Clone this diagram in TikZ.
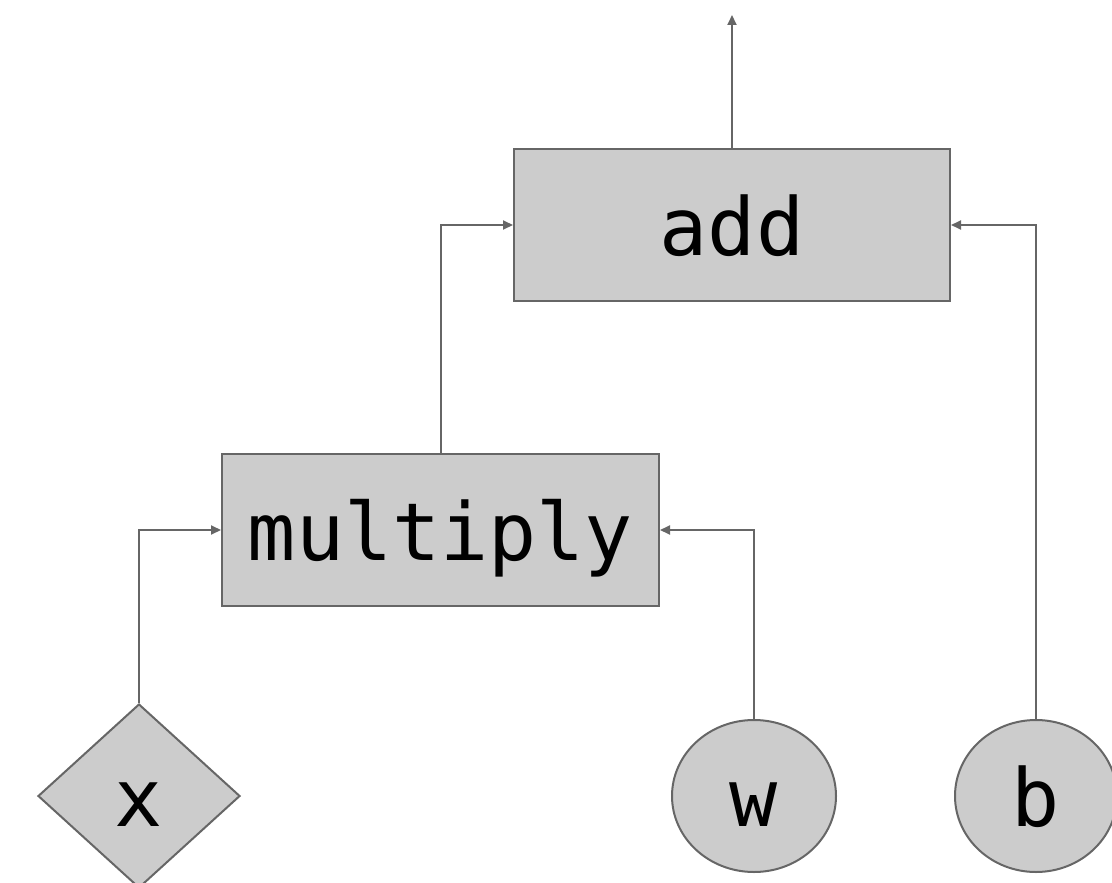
\documentclass[tikz,border=0pt]{standalone}
\usepackage{fontspec}
\setmonofont{DejaVu Sans Mono}
\usetikzlibrary{shapes.geometric,arrows.meta}
\definecolor{boxfill}{HTML}{CCCCCC}
\definecolor{edge}{HTML}{666666}
\tikzset{
  opbox/.style={draw=edge, fill=boxfill, line width=2pt, inner sep=0pt},
  lbl/.style={font=\ttfamily\fontsize{80}{90}\selectfont, text=black, text height=60pt, text depth=0pt},
  conn/.style={draw=edge, line width=2pt, -{Triangle[length=10pt,width=9pt]}},
}
\begin{document}
\begin{tikzpicture}[x=1pt,y=-1pt]
\useasboundingbox (0,0) rectangle (1112,883);
\node[opbox, minimum width=436pt, minimum height=152pt, lbl] (add) at (732,225) {add};
\node[opbox, minimum width=437pt, minimum height=152pt, lbl] (mul) at (440.5,530) {multiply\hspace{14pt}};
\node[opbox, diamond, minimum width=202pt, minimum height=184pt, lbl] (x) at (139,796) {x};
\node[opbox, ellipse, minimum width=164pt, minimum height=152pt, lbl] (w) at (754,796) {w};
\node[opbox, ellipse, minimum width=162pt, minimum height=152pt, lbl] (b) at (1036,796) {b};
\coordinate (out) at (732,15);
\draw[conn] (x.north) |- (mul.west);
\draw[conn] (w.north) |- (mul.east);
\draw[conn] (mul.north) |- (add.west);
\draw[conn] (b.north) |- (add.east);
\draw[conn] (add.north) -- (out);
\end{tikzpicture}
\end{document}
